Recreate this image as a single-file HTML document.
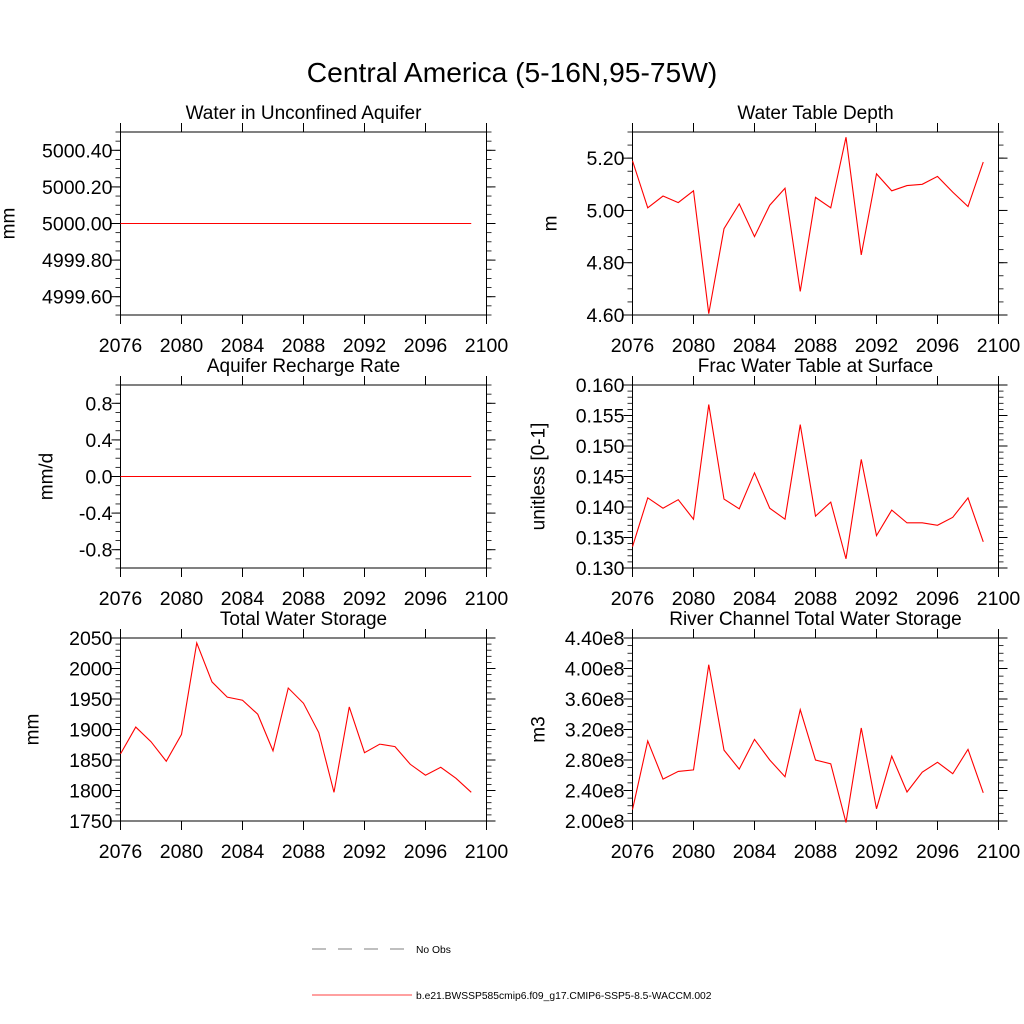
<!DOCTYPE html>
<html><head><meta charset="utf-8"><style>
body{margin:0;background:#fff;}
svg{display:block;font-family:"Liberation Sans",sans-serif;}
</style></head><body>
<svg id="chart" width="1024" height="1024" viewBox="0 0 1024 1024" xmlns="http://www.w3.org/2000/svg">
<text x="512" y="82" font-size="28.2" text-anchor="middle">Central America (5-16N,95-75W)</text>
<g>
<line x1="312" y1="949" x2="412" y2="949" stroke="#555" stroke-width="0.8" stroke-dasharray="14,12"/>
<text x="416" y="953" font-size="10.3">No Obs</text>
<line x1="312" y1="995" x2="412" y2="995" stroke="#f00" stroke-width="0.8"/>
<text x="416" y="999" font-size="10.3">b.e21.BWSSP585cmip6.f09_g17.CMIP6-SSP5-8.5-WACCM.002</text>
</g>
</svg>
<script>
const years=[2076,2077,2078,2079,2080,2081,2082,2083,2084,2085,2086,2087,2088,2089,2090,2091,2092,2093,2094,2095,2096,2097,2098,2099];
const xTicks=[2076,2080,2084,2088,2092,2096,2100];
const aquiferValues=[5000,5000,5000,5000,5000,5000,5000,5000,5000,5000,5000,5000,5000,5000,5000,5000,5000,5000,5000,5000,5000,5000,5000,5000];
const rechargeValues=[0,0,0,0,0,0,0,0,0,0,0,0,0,0,0,0,0,0,0,0,0,0,0,0];
const wtdValues=[5.19,5.01,5.055,5.03,5.075,4.605,4.93,5.025,4.90,5.02,5.085,4.69,5.05,5.01,5.28,4.83,5.14,5.075,5.095,5.10,5.13,5.07,5.015,5.185];
const fracValues=[0.1335,0.1415,0.1398,0.1412,0.138,0.1568,0.1413,0.1397,0.1456,0.1398,0.138,0.1535,0.1385,0.1408,0.1315,0.1478,0.1353,0.1395,0.1374,0.1374,0.137,0.1383,0.1415,0.1343];
const twsValues=[1860,1904,1880,1848,1892,2042,1978,1953,1948,1925,1865,1968,1943,1895,1797,1937,1862,1876,1872,1843,1825,1838,1820,1797];
const riverValues=[2.15,3.05,2.55,2.65,2.67,4.05,2.93,2.68,3.07,2.80,2.58,3.46,2.80,2.75,1.98,3.22,2.16,2.85,2.38,2.64,2.77,2.62,2.94,2.37];
const aquiferTicks=["4999.60","4999.80","5000.00","5000.20","5000.40"];
const rechargeTicks=["-0.8","-0.4","0.0","0.4","0.8"];
const wtdTicks=["4.60","4.80","5.00","5.20"];
const fracTicks=["0.130","0.135","0.140","0.145","0.150","0.155","0.160"];
const twsTicks=["1750","1800","1850","1900","1950","2000","2050"];
const riverTicks=["2.00e8","2.40e8","2.80e8","3.20e8","3.60e8","4.00e8","4.40e8"];

const NS="http://www.w3.org/2000/svg";
const svg=document.getElementById('chart');
function mk(tag,attrs,parent){const e=document.createElementNS(NS,tag);for(const k in attrs)e.setAttribute(k,attrs[k]);parent.appendChild(e);return e;}

function panel(cfg){
  const L=cfg.x0,R=cfg.x0+366,T=cfg.y0,B=cfg.y0+183;
  const g=mk('g',{},svg);
  
  
  const xs=v=>L+(v-2076)/(2100-2076)*(R-L);
  const ys=v=>B-(v-cfg.ymin)/(cfg.ymax-cfg.ymin)*(B-T);
  const t=mk('text',{x:(L+R)/2,y:T-13,'font-size':19,'text-anchor':'middle'},g);
  t.textContent=cfg.title;
  
  
  const nMinor=Math.round((cfg.ymax-cfg.ymin)/cfg.minor);
  for(let k=0;k<=nMinor;k++){
    const y=ys(cfg.ymin+k*cfg.minor);
    mk('line',{x1:L-5,x2:L,y1:y,y2:y,stroke:'#000','stroke-width':0.8},g);
    mk('line',{x1:R,x2:R+5,y1:y,y2:y,stroke:'#000','stroke-width':0.8},g);
  }
  cfg.ticks.forEach(s=>{
    const v=parseFloat(s), y=ys(v);
    mk('line',{x1:L-9,x2:L,y1:y,y2:y,stroke:'#000','stroke-width':1},g);
    mk('line',{x1:R,x2:R+9,y1:y,y2:y,stroke:'#000','stroke-width':1},g);
    const lt=mk('text',{x:L-8,y:y+7,'font-size':19.5,'text-anchor':'end'},g);
    lt.textContent=s;
    
    
  });
  xTicks.forEach(v=>{
    const x=xs(v);
    mk('line',{x1:x,x2:x,y1:B,y2:B+9,stroke:'#000','stroke-width':1},g);
    mk('line',{x1:x,x2:x,y1:T-9,y2:T,stroke:'#000','stroke-width':1},g);
    const lt=mk('text',{x:x,y:B+37,'font-size':19.5,'text-anchor':'middle'},g);
    lt.textContent=v;
    
    
  });
  const yl=mk('text',{x:0,y:0,'font-size':19,'text-anchor':'middle',transform:`translate(${L-cfg.ylOff},${(T+B)/2}) rotate(-90)`},g);
  yl.textContent=cfg.ylabel;
  
  
  const fr=mk('rect',{x:L,y:T,width:R-L,height:B-T,fill:'none',stroke:'#000','stroke-width':1},g);
  
  
  const d=years.map((yr,i)=>(i?'L':'M')+xs(yr).toFixed(2)+' '+ys(cfg.values[i]*cfg.scale).toFixed(2)).join(' ');
  const pl=mk('path',{d:d,fill:'none',stroke:'#ff0000','stroke-width':1.1},g);
  
  
}
panel({name:'aquifer',title:'Water in Unconfined Aquifer',x0:120.5,y0:132,ymin:4999.5,ymax:5000.5,minor:0.05,ticks:aquiferTicks,values:aquiferValues,scale:1,ylabel:'mm',ylOff:106});
panel({name:'wtd',title:'Water Table Depth',x0:632.5,y0:132,ymin:4.6,ymax:5.3,minor:0.05,ticks:wtdTicks,values:wtdValues,scale:1,ylabel:'m',ylOff:76});
panel({name:'recharge',title:'Aquifer Recharge Rate',x0:120.5,y0:385,ymin:-1,ymax:1,minor:0.1,ticks:rechargeTicks,values:rechargeValues,scale:1,ylabel:'mm/d',ylOff:68});
panel({name:'frac',title:'Frac Water Table at Surface',x0:632.5,y0:385,ymin:0.13,ymax:0.16,minor:0.001,ticks:fracTicks,values:fracValues,scale:1,ylabel:'unitless [0-1]',ylOff:88});
panel({name:'tws',title:'Total Water Storage',x0:120.5,y0:638,ymin:1750,ymax:2050,minor:10,ticks:twsTicks,values:twsValues,scale:1,ylabel:'mm',ylOff:82});
panel({name:'river',title:'River Channel Total Water Storage',x0:632.5,y0:638,ymin:2e8,ymax:4.4e8,minor:1e7,ticks:riverTicks,values:riverValues,scale:1e8,ylabel:'m3',ylOff:88});
</script>
</body></html>
